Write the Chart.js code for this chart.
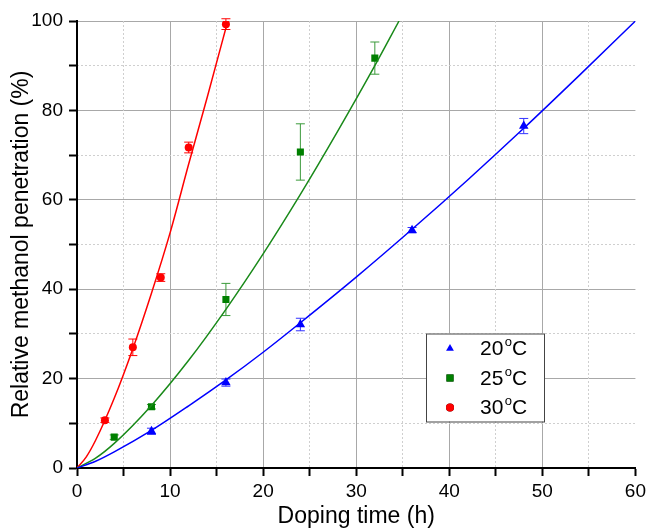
<!DOCTYPE html>
<html>
<head>
<meta charset="utf-8">
<title>Relative methanol penetration</title>
<script src="https://cdn.jsdelivr.net/npm/chart.js@4.4.0/dist/chart.umd.min.js"></script>
<style>
  html, body { margin: 0; padding: 0; background: #fff; }
  #wrap { width: 650px; height: 530px; }
</style>
</head>
<body>
<div id="wrap"><canvas id="penetrationChart"></canvas></div>
<script>
// series names (temperature, drawn as "20 oC" with a raised o)
var temps = ['20', '25', '30'];

// measured points: doping time (h), penetration (%), error (+/-)
var time20 = [8, 16, 24, 36, 48];
var pen20 = [8.2, 19.1, 32.1, 53.2, 76.5];
var err20 = [0.7, 0.8, 1.4, 0.6, 1.7];

var time25 = [4, 8, 16, 24, 32];
var pen25 = [6.9, 13.7, 37.7, 70.7, 91.7];
var err25 = [0.5, 0.5, 3.6, 6.3, 3.6];

var time30 = [3, 6, 9, 12, 16];
var pen30 = [10.7, 27.0, 42.6, 71.7, 99.3];
var err30 = [0.5, 1.85, 0.85, 1.2, 1.2];

// fitted curves
var fitTime20 = [0, 2, 4, 8, 12, 16, 20, 24, 30, 36, 42, 48, 54, 60];
var fitPen20 = [0, 1.5, 3.6, 8.4, 13.9, 19.7, 25.9, 32.5, 42.7, 53.4, 64.5, 76.0, 87.9, 100];

var fitTime25 = [0, 2, 4, 8, 12, 16, 20, 24, 28, 32, 34.6];
var fitPen25 = [0, 2.2, 5.5, 14.0, 24.1, 35.5, 47.9, 61.2, 75.3, 90.0, 100];

var fitTime30 = [0, 1, 2, 4, 6, 8, 10, 12, 14, 16.2];
var fitPen30 = [0, 2.5, 6.2, 15.6, 26.7, 39.1, 52.6, 68.0, 83.0, 100];

var blue = '#0000ff', green = '#008000', red = '#ff0000';
var font = '"Liberation Sans", Arial, sans-serif';

function pairs(xs, ys) {
    return xs.map(function (x, i) { return { x: x, y: ys[i] }; });
}

// vertical error bars with caps, placed through the chart scales
var errorBars = {
    id: 'errorBars',
    beforeDatasetsDraw: function (chart) {
        var ctx = chart.ctx, xs = chart.scales.x, ys = chart.scales.y;
        chart.data.datasets.forEach(function (ds) {
            if (!ds.errors) return;
            ctx.save();
            ctx.strokeStyle = ds.errorColor;
            ctx.lineWidth = 1;
            ds.data.forEach(function (pt, j) {
                var px = xs.getPixelForValue(pt.x);
                var top = ys.getPixelForValue(pt.y + ds.errors[j]);
                var bot = ys.getPixelForValue(pt.y - ds.errors[j]);
                ctx.beginPath();
                ctx.moveTo(px, top); ctx.lineTo(px, bot);
                ctx.moveTo(px - 4.5, top); ctx.lineTo(px + 4.5, top);
                ctx.moveTo(px - 4.5, bot); ctx.lineTo(px + 4.5, bot);
                ctx.stroke();
            });
            ctx.restore();
        });
    }
};

// boxed legend sitting inside the plot
var boxLegend = {
    id: 'boxLegend',
    afterDraw: function (chart) {
        var ctx = chart.ctx, area = chart.chartArea;
        var left = area.left + 349, top = area.top + 312.5;
        ctx.save();
        ctx.fillStyle = '#fff';
        ctx.fillRect(left, top, 118, 88);
        ctx.strokeStyle = '#444';
        ctx.lineWidth = 1;
        ctx.strokeRect(left + 0.5, top + 0.5, 118, 88);
        var rows = chart.data.datasets.filter(function (ds) { return ds.temp; });
        rows.forEach(function (ds, i) {
            var y = top + 15 + i * 29.5;
            Chart.helpers.drawPoint(ctx, {
                pointStyle: ds.pointStyle, radius: ds.legendRadius, rotation: 0, borderWidth: 0
            }, left + 24, y);
            ctx.fillStyle = ds.backgroundColor;
            ctx.fill();
            ctx.fillStyle = '#000';
            ctx.textBaseline = 'middle';
            ctx.textAlign = 'left';
            var x = left + 54;
            ctx.font = '21px ' + font;
            ctx.fillText(ds.temp, x, y + 1);
            x += ctx.measureText(ds.temp).width + 1.5;
            ctx.font = '13px ' + font;
            ctx.fillText('o', x, y - 6);
            x += ctx.measureText('o').width;
            ctx.font = '21px ' + font;
            ctx.fillText('C', x, y + 1);
        });
        ctx.restore();
    }
};

var ctx = document.getElementById('penetrationChart').getContext('2d');

var penetrationChart = new Chart(ctx, {
    type: 'scatter',
    data: {
        datasets: [{
            label: temps[0] + ' \u00B0C fit',
            data: pairs(fitTime20, fitPen20),
            showLine: true, pointRadius: 0, borderColor: blue, borderWidth: 1.5,
            cubicInterpolationMode: 'monotone'
        }, {
            label: temps[1] + ' \u00B0C fit',
            data: pairs(fitTime25, fitPen25),
            showLine: true, pointRadius: 0, borderColor: '#1a8a1a', borderWidth: 1.5,
            cubicInterpolationMode: 'monotone'
        }, {
            label: temps[2] + ' \u00B0C fit',
            data: pairs(fitTime30, fitPen30),
            showLine: true, pointRadius: 0, borderColor: red, borderWidth: 1.5,
            cubicInterpolationMode: 'monotone'
        }, {
            label: temps[0] + ' \u00B0C', temp: temps[0],
            data: pairs(time20, pen20), errors: err20, errorColor: '#3333ff',
            pointStyle: 'triangle', pointRadius: 5.5, legendRadius: 4.5,
            backgroundColor: blue, borderColor: blue, borderWidth: 0
        }, {
            label: temps[1] + ' \u00B0C', temp: temps[1],
            data: pairs(time25, pen25), errors: err25, errorColor: '#3a9a3a',
            pointStyle: 'rect', pointRadius: 5, legendRadius: 5,
            backgroundColor: green, borderColor: green, borderWidth: 0
        }, {
            label: temps[2] + ' \u00B0C', temp: temps[2],
            data: pairs(time30, pen30), errors: err30, errorColor: red,
            pointStyle: 'circle', pointRadius: 4, legendRadius: 4,
            backgroundColor: red, borderColor: red, borderWidth: 0
        }]
    },
    options: {
        responsive: true,
        maintainAspectRatio: false,
        animation: false,
        layout: { padding: { top: 21, right: 12, left: 0, bottom: 0 } },
        plugins: { legend: { display: false }, tooltip: { enabled: false } },
        scales: {
            x: {
                type: 'linear', min: 0, max: 60,
                afterFit: function (s) { s.height = 62; },
                ticks: {
                    stepSize: 5, padding: 4, color: '#000',
                    font: { family: font, size: 19 },
                    callback: function (v) { return v % 10 === 0 ? v : ''; }
                },
                grid: {
                    color: function (c) {
                        return c.tick && c.tick.value % 10 === 0 && c.tick.value > 0 && c.tick.value < 60 ? '#a8a8a8' : 'rgba(0,0,0,0)';
                    },
                    tickColor: '#000', tickLength: 8, tickWidth: 2
                },
                border: { color: '#000', width: 2 },
                title: {
                    display: true, text: 'Doping time (h)', color: '#000',
                    font: { family: font, size: 23 }, padding: { top: 0, bottom: 0 }
                }
            },
            y: {
                type: 'linear', min: 0, max: 100,
                afterFit: function (s) { s.width = 77; },
                ticks: {
                    stepSize: 10, padding: 6, color: '#000',
                    font: { family: font, size: 19 },
                    callback: function (v) { return v % 20 === 0 ? v : ''; }
                },
                grid: {
                    color: function (c) {
                        return c.tick && c.tick.value % 20 === 0 && c.tick.value > 0 ? '#a8a8a8' : 'rgba(0,0,0,0)';
                    },
                    tickColor: '#000', tickLength: 8, tickWidth: 2
                },
                border: { color: '#000', width: 2 },
                title: {
                    display: true, text: 'Relative methanol penetration (%)', color: '#000',
                    font: { family: font, size: 23 }, padding: { top: 8, bottom: 0 }
                }
            },
            // dotted minor grid lines
            xMinor: {
                type: 'linear', position: 'bottom', min: 0, max: 60,
                afterFit: function (s) { s.height = 0; },
                ticks: { display: false, stepSize: 5 },
                grid: {
                    drawTicks: false,
                    color: function (c) {
                        return c.tick && c.tick.value % 10 !== 0 ? '#cfcfcf' : 'rgba(0,0,0,0)';
                    }
                },
                border: { display: false, dash: [2, 2] }
            },
            yMinor: {
                type: 'linear', position: 'left', min: 0, max: 100,
                afterFit: function (s) { s.width = 0; },
                ticks: { display: false, stepSize: 10 },
                grid: {
                    drawTicks: false,
                    color: function (c) {
                        return c.tick && c.tick.value % 20 !== 0 ? '#cfcfcf' : 'rgba(0,0,0,0)';
                    }
                },
                border: { display: false, dash: [2, 2] }
            }
        }
    },
    plugins: [errorBars, boxLegend]
});
</script>
</body>
</html>
